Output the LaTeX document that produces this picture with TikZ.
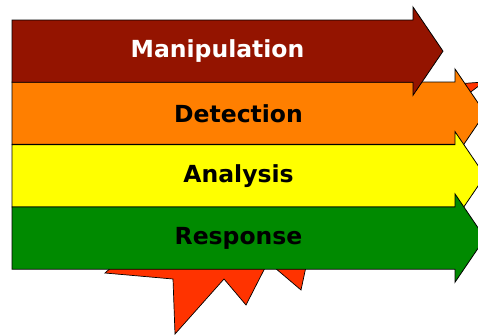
\documentclass[tikz,border=0pt]{standalone}
\usepackage{fontspec}
\newfontfamily\bandfont{DejaVu Sans}
\definecolor{manired}{HTML}{941400}
\definecolor{detorange}{HTML}{FF7F00}
\definecolor{anayellow}{HTML}{FFFF00}
\definecolor{respgreen}{HTML}{008A00}
\definecolor{burstred}{HTML}{FF3300}

% one band arrow: #1 top y, #2 head start x, #3 fill colour
\newcommand{\bandarrow}[3]{%
    \filldraw[fill=#3, draw=black, line width=0.8pt]
        (12,#1) -- (#2,#1) -- (#2,{#1-13}) -- ({#2+30},{#1+31.15})
        -- (#2,{#1+75.3}) -- (#2,{#1+62.3}) -- (12,{#1+62.3}) -- cycle;
}

\begin{document}
\begin{tikzpicture}[
                x=1pt, y=-1pt,
                every node/.style={font=\bandfont\bfseries\fontsize{23.5}{28}\selectfont},
                bandlabel/.style={inner sep=0pt, anchor=center}
            ]

            \useasboundingbox (0,0) rectangle (478,335);
            \clip (0,0) rectangle (478,335);

            % burst behind the bands
            \filldraw[fill=burstred, draw=black, line width=0.7pt]
                (105,273) -- (173,279) -- (175,334) -- (224,279) -- (246,305)
                -- (268,262) -- (301,290) -- (307,262) -- (380,230)
                -- (440,115) -- (484,82) -- (420,86.5) -- (300,120)
                -- (150,160) -- (125,255) -- cycle;

            % bands, lowest on top
            \bandarrow{82}{455}{detorange}
            \bandarrow{144.6}{455}{anayellow}
            \bandarrow{206.9}{455}{respgreen}
            \bandarrow{20}{413}{manired}

            \node[bandlabel, text=white] (manipulation) at (217.5,51) {Manipulation};
            \node[bandlabel] (detection) at (238.5,113.5) {Detection};
            \node[bandlabel] (analysis) at (238.5,176) {Analysis};
            \node[bandlabel] (response) at (238.5,238) {Response};

        \end{tikzpicture}
\end{document}
